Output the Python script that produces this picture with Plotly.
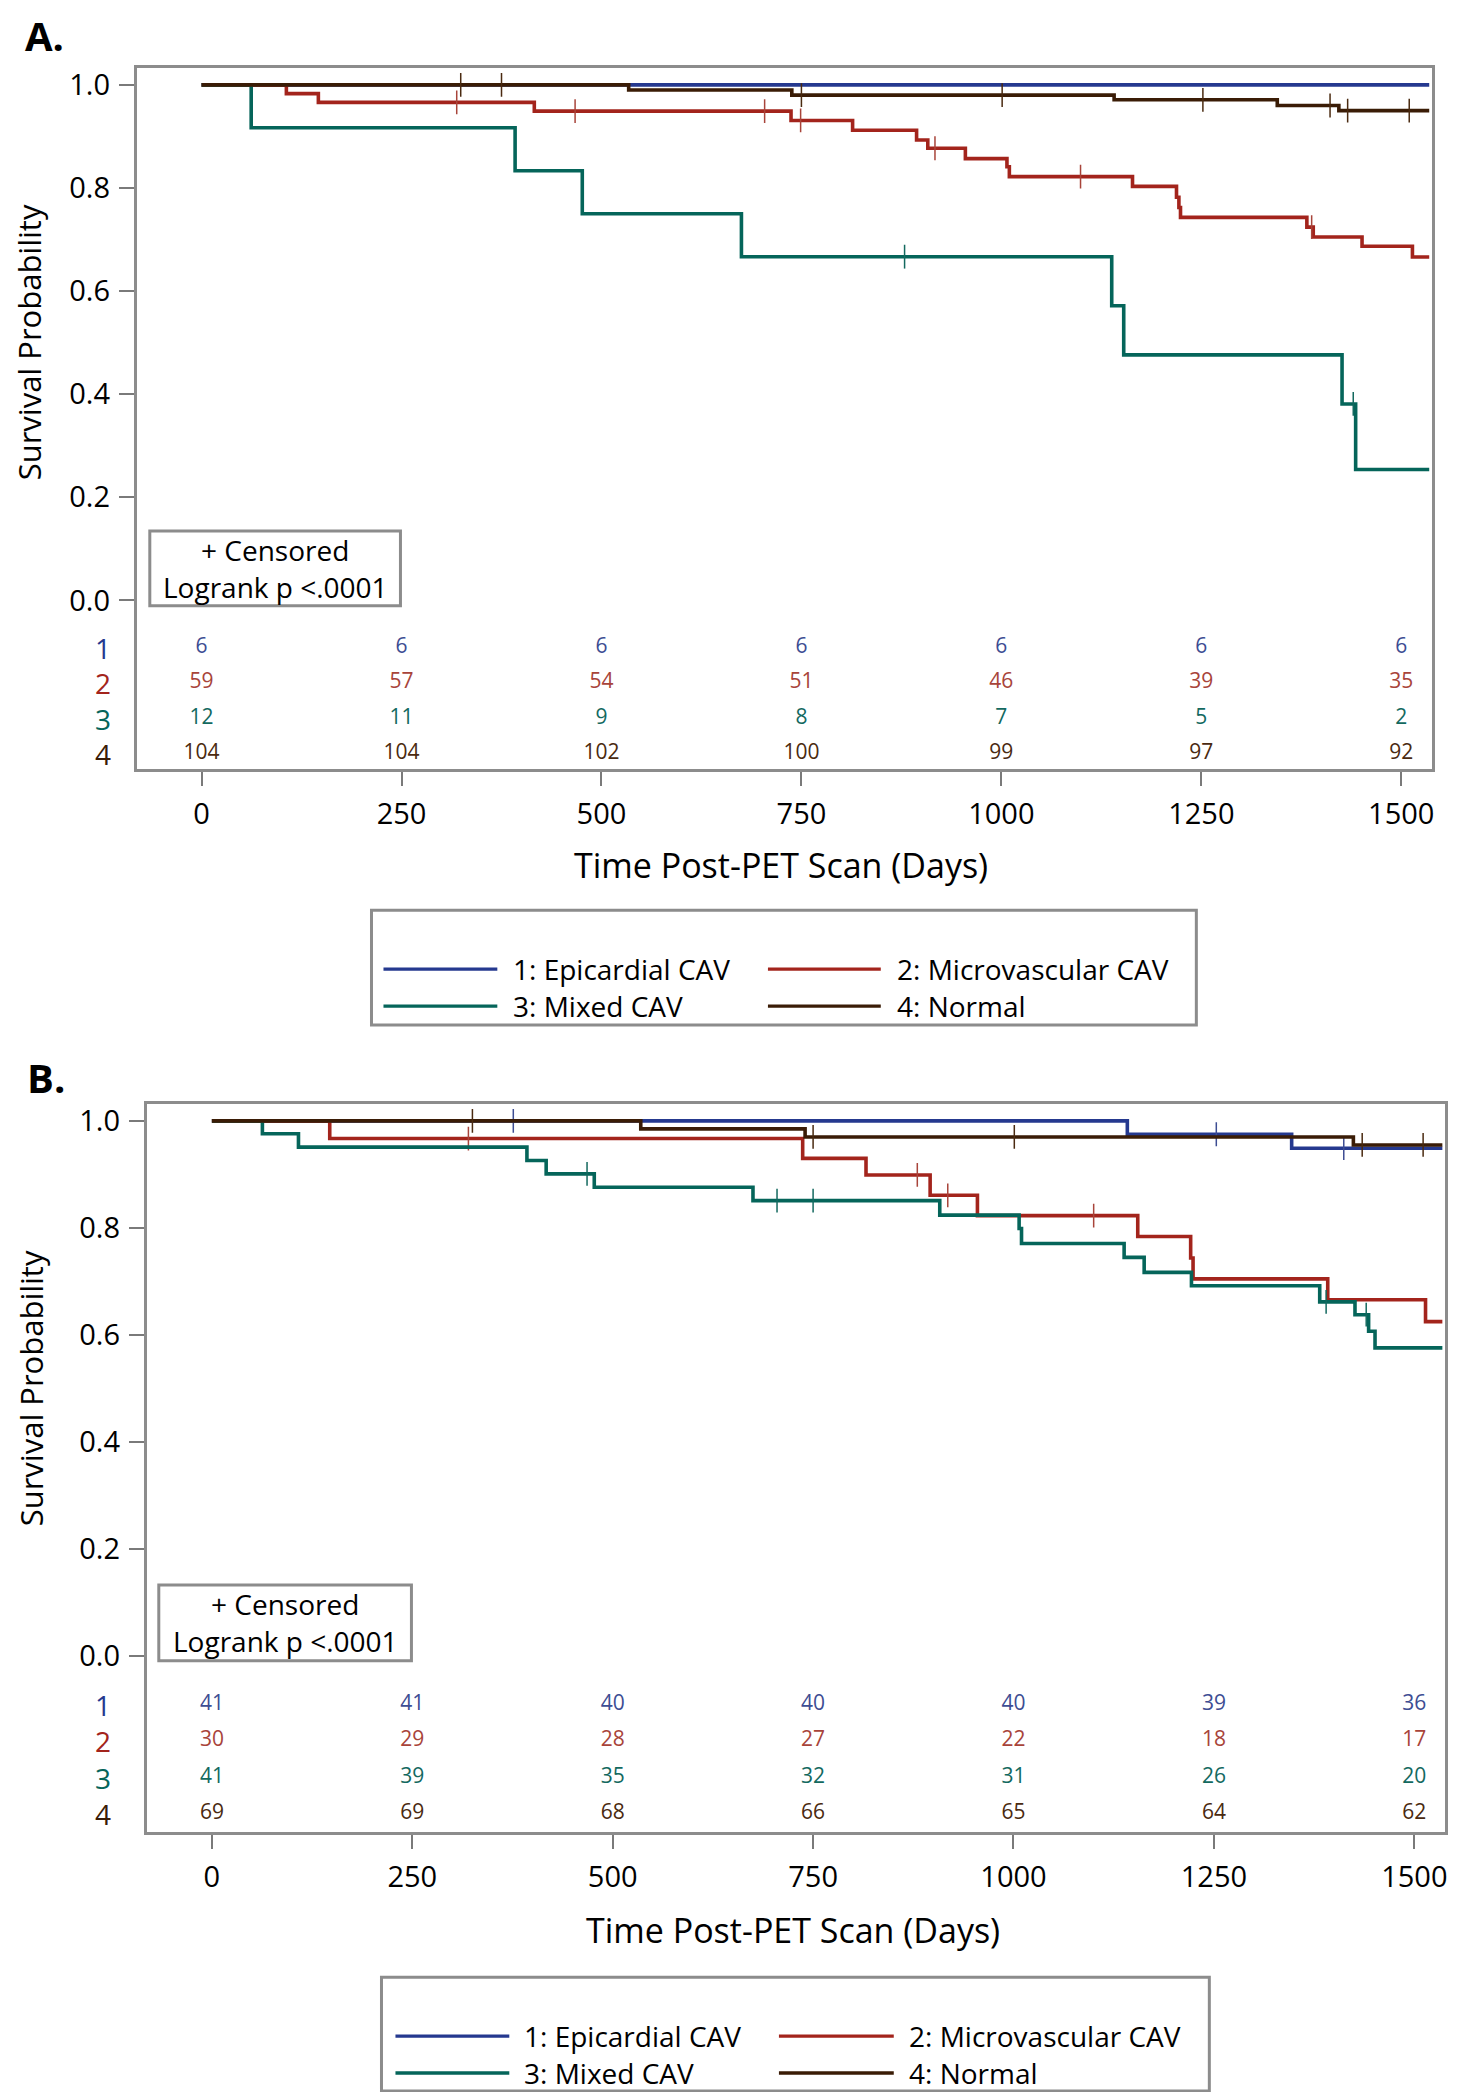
import plotly.graph_objects as go

# The page has an 8px body margin; the figure is sized to fit the 1459x2100 window exactly.
WIN_W, WIN_H, OFF = 1459, 2100, 8
W, H = WIN_W - 2 * OFF, WIN_H - 2 * OFF
FONT = "Open Sans"

# ---------------- data ----------------
group_names = ["1: Epicardial CAV", "2: Microvascular CAV", "3: Mixed CAV", "4: Normal"]
line_colors = ["#25398f", "#a3241c", "#05655a", "#3a1c06"]
text_colors = ["#3d4d93", "#a8443a", "#13695f", "#4a2a10"]
row_labels = ["1", "2", "3", "4"]
risk_times = [0, 250, 500, 750, 1000, 1250, 1500]
tick_days = [0, 250, 500, 750, 1000, 1250, 1500]
tick_surv = [0.0, 0.2, 0.4, 0.6, 0.8, 1.0]

# Panel A: step times (days) and survival
a1_t = [0, 1535]
a1_s = [1.0, 1.0]
a1_c = []
a2_t = [0, 106, 146, 416, 737, 814, 894, 908, 955, 1007, 1010, 1164, 1219, 1222, 1224, 1382, 1390, 1451, 1514, 1535]
a2_s = [1.0, 0.983, 0.966, 0.949, 0.931, 0.912, 0.893, 0.877, 0.857, 0.841, 0.822, 0.803, 0.782, 0.762, 0.743, 0.724, 0.705, 0.687, 0.666, 0.666]
a2_c = [319, 467, 704, 749, 917, 1099, 1388]
a3_t = [0, 62, 392, 476, 675, 1138, 1153, 1426, 1443, 1535]
a3_s = [1.0, 0.9167, 0.8333, 0.75, 0.6667, 0.5714, 0.4762, 0.381, 0.254, 0.254]
a3_c = [879, 1440]
a4_t = [0, 534, 738, 1141, 1345, 1422, 1535]
a4_s = [1.0, 0.990, 0.980, 0.971, 0.960, 0.950, 0.950]
a4_c = [324, 375, 750, 1001, 1252, 1411, 1433, 1510]
a_risk = [
    [6, 6, 6, 6, 6, 6, 6],
    [59, 57, 54, 51, 46, 39, 35],
    [12, 11, 9, 8, 7, 5, 2],
    [104, 104, 102, 100, 99, 97, 92],
]

# Panel B
b1_t = [0, 1142, 1347, 1535]
b1_s = [1.0, 0.975, 0.949, 0.949]
b1_c = [376, 1253, 1412]
b2_t = [0, 147, 737, 816, 896, 955, 1155, 1221, 1224, 1392, 1514, 1535]
b2_s = [1.0, 0.967, 0.930, 0.899, 0.861, 0.823, 0.784, 0.744, 0.705, 0.666, 0.625, 0.625]
b2_c = [320, 880, 918, 1100]
b3_t = [0, 63, 108, 393, 417, 477, 675, 908, 1007, 1010, 1138, 1163, 1222, 1382, 1426, 1443, 1451, 1535]
b3_s = [1.0, 0.976, 0.951, 0.926, 0.901, 0.876, 0.851, 0.824, 0.799, 0.771, 0.745, 0.717, 0.692, 0.662, 0.638, 0.607, 0.576, 0.576]
b3_c = [468, 705, 750, 1390, 1440]
b4_t = [0, 535, 740, 1424, 1535]
b4_s = [1.0, 0.985, 0.970, 0.955, 0.955]
b4_c = [325, 750, 1001, 1435, 1511]
b_risk = [
    [41, 41, 40, 40, 40, 39, 36],
    [30, 29, 28, 27, 22, 18, 17],
    [41, 39, 35, 32, 31, 26, 20],
    [69, 69, 68, 66, 65, 64, 62],
]

panel_a = dict(curves=[(a1_t, a1_s, a1_c), (a2_t, a2_s, a2_c), (a3_t, a3_s, a3_c), (a4_t, a4_s, a4_c)], risk=a_risk)
panel_b = dict(curves=[(b1_t, b1_s, b1_c), (b2_t, b2_s, b2_c), (b3_t, b3_s, b3_c), (b4_t, b4_s, b4_c)], risk=b_risk)


def step_at(ts, ss, t):
    v = ss[0]
    for ti, si in zip(ts, ss):
        if ti <= t:
            v = si
    return v


def px(x):
    return (x - OFF) / W


def py(y):
    return 1 - (y - OFF) / H


# layout geometry (window pixels)
geo = {
    "A": dict(x0=137, x1=1434, y0=64, y1=766, y_one=81, y_zero=597.5, xr=(-81.0, 1538.5),
              risk_px=[645, 680, 716, 751], ytitle=(29, 339), xtitle=(782, 863), letter=(45, 32),
              box=(150, 528, 401, 603), box_lines=(547, 584),
              leg=(372, 908, 1198, 1023), leg_rows=(967, 1004), leg_cols=((384, 498, 512), (769, 882, 896))),
    "B": dict(x0=147, x1=1447, y0=1102, y1=1831, y_one=1119, y_zero=1655.5, xr=(-81.2, 1538.3),
              risk_px=[1704, 1740, 1777, 1813], ytitle=(31, 1387), xtitle=(794, 1930), letter=(46, 1076),
              box=(159, 1584, 412, 1660), box_lines=(1603, 1640),
              leg=(382, 1977, 1211, 2091), leg_rows=(2036, 2073), leg_cols=((396, 510, 523), (780, 895, 908))),
}

fig = go.Figure()
shapes = []
annotations = []
layout_axes = {}

for key, panel, idx in (("A", panel_a, 1), ("B", panel_b, 2)):
    g = geo[key]
    xa = "x" if idx == 1 else "x2"
    ya = "y" if idx == 1 else "y2"
    pu = g["y_zero"] - g["y_one"]  # pixels per unit survival

    def yval(p):
        return (g["y_zero"] - p) / pu

    yr = (yval(g["y1"]), yval(g["y0"]))

    # curves
    for gi, (ts, ss, cs) in enumerate(panel["curves"]):
        fig.add_trace(go.Scatter(x=ts, y=ss, mode="lines", line=dict(color=line_colors[gi], width=3.6, shape="hv"),
                                 xaxis=xa, yaxis=ya, showlegend=False, hoverinfo="skip"))
        if cs:
            fig.add_trace(go.Scatter(x=cs, y=[step_at(ts, ss, c) for c in cs], mode="markers",
                                     marker=dict(symbol="line-ns-open", size=17, color=text_colors[gi],
                                                 line=dict(color=text_colors[gi], width=1.5)),
                                     xaxis=xa, yaxis=ya, showlegend=False, hoverinfo="skip"))
    # number at risk
    for gi, counts in enumerate(panel["risk"]):
        yrow = yval(g["risk_px"][gi])
        fig.add_trace(go.Scatter(x=risk_times, y=[yrow] * len(risk_times), mode="text",
                                 text=[str(c) for c in counts],
                                 textfont=dict(family=FONT, size=21, color=text_colors[gi]),
                                 textposition="middle center", xaxis=xa, yaxis=ya,
                                 showlegend=False, hoverinfo="skip", cliponaxis=False))
        annotations.append(dict(x=px(103), y=yrow, xref="paper", yref=ya, text=row_labels[gi], showarrow=False,
                                xanchor="center", yanchor="middle",
                                font=dict(family=FONT, size=28, color=line_colors[gi])))

    axis_common = dict(showline=True, linecolor="#8c8c8c", linewidth=3, mirror=True, showgrid=False,
                       zeroline=False, ticks="outside", tickcolor="#7a7a7a", tickwidth=2,
                       tickfont=dict(family=FONT, size=29, color="#000000"))
    layout_axes["xaxis" if idx == 1 else "xaxis2"] = dict(
        axis_common, domain=[px(g["x0"]), px(g["x1"])], range=list(g["xr"]),
        tickvals=tick_days, ticklen=14, ticklabelstandoff=4, anchor=ya)
    layout_axes["yaxis" if idx == 1 else "yaxis2"] = dict(
        axis_common, domain=[py(g["y1"]), py(g["y0"])], range=list(yr),
        tickvals=tick_surv, tickformat=".1f", ticklen=15, ticklabelstandoff=3, anchor=xa)

    # axis titles
    annotations.append(dict(x=px(g["ytitle"][0]), y=py(g["ytitle"][1]), xref="paper", yref="paper",
                            text="Survival Probability", textangle=-90, showarrow=False,
                            xanchor="center", yanchor="middle", font=dict(family=FONT, size=31, color="#000000")))
    annotations.append(dict(x=px(g["xtitle"][0]), y=py(g["xtitle"][1]), xref="paper", yref="paper",
                            text="Time Post-PET Scan (Days)", showarrow=False,
                            xanchor="center", yanchor="middle", font=dict(family=FONT, size=34, color="#000000")))
    # panel letter
    annotations.append(dict(x=px(g["letter"][0]), y=py(g["letter"][1]), xref="paper", yref="paper",
                            text="<b>%s.</b>" % key, showarrow=False, xanchor="center", yanchor="middle",
                            font=dict(family=FONT, size=40, color="#000000")))
    # censored / logrank box
    bx0, by0, bx1, by1 = g["box"]
    shapes.append(dict(type="rect", xref="paper", yref="paper", x0=px(bx0), x1=px(bx1), y0=py(by1), y1=py(by0),
                       line=dict(color="#8c8c8c", width=3), fillcolor="white", layer="above"))
    for txt, yy in zip(["+ Censored", "Logrank p <.0001"], g["box_lines"]):
        annotations.append(dict(x=px((bx0 + bx1) / 2), y=py(yy), xref="paper", yref="paper", text=txt,
                                showarrow=False, xanchor="center", yanchor="middle",
                                font=dict(family=FONT, size=28, color="#000000")))
    # legend box
    lx0, ly0, lx1, ly1 = g["leg"]
    shapes.append(dict(type="rect", xref="paper", yref="paper", x0=px(lx0), x1=px(lx1), y0=py(ly1), y1=py(ly0),
                       line=dict(color="#8c8c8c", width=3), fillcolor="rgba(0,0,0,0)"))
    for gi, name in enumerate(group_names):
        row, col = divmod(gi, 2)
        c0, c1, tx = g["leg_cols"][col]
        yy = g["leg_rows"][row]
        shapes.append(dict(type="line", xref="paper", yref="paper", x0=px(c0), x1=px(c1), y0=py(yy), y1=py(yy),
                           line=dict(color=line_colors[gi], width=3.4)))
        annotations.append(dict(x=px(tx), y=py(yy), xref="paper", yref="paper", text=name, showarrow=False,
                                xanchor="left", yanchor="middle", font=dict(family=FONT, size=28, color="#000000")))

fig.update_layout(
    width=W, height=H, margin=dict(l=0, r=0, t=0, b=0),
    paper_bgcolor="white", plot_bgcolor="white",
    shapes=shapes, annotations=annotations, showlegend=False,
    **layout_axes,
)

fig.write_html("out.html")
